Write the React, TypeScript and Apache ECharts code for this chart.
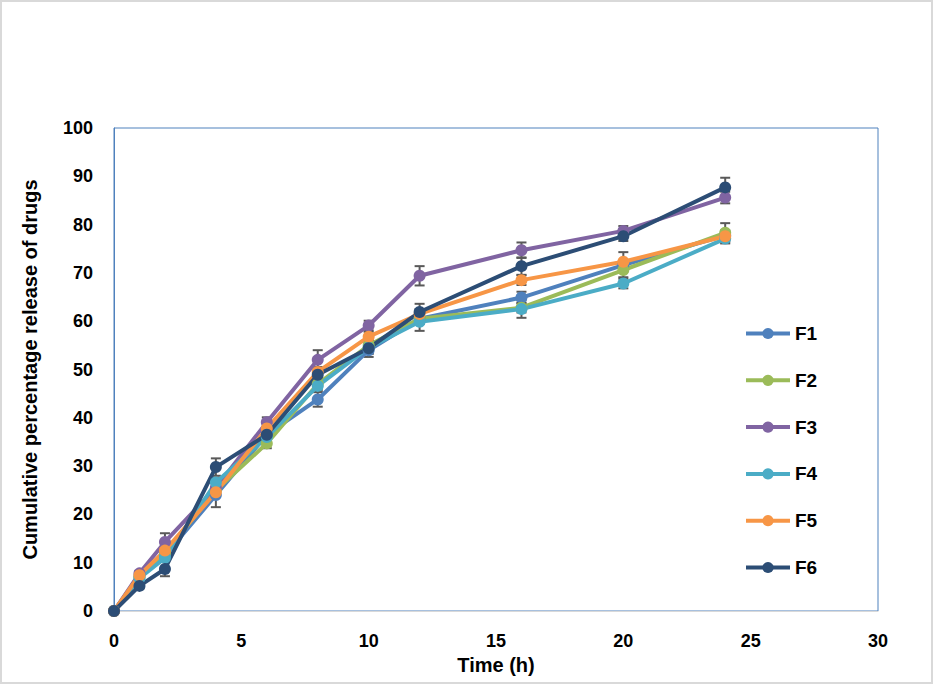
import React, { useEffect, useRef } from "react";
import * as echarts from "echarts";

const times = [0, 1, 2, 4, 6, 8, 10, 12, 16, 20, 24];
const seriesNames = ["F1", "F2", "F3", "F4", "F5", "F6"];
const colors = ["#4F81BD", "#9BBB59", "#8064A2", "#4BACC6", "#F79646", "#2C4D75"];

const f1 = [0, 7.2, 11.5, 24.0, 36.5, 43.8, 54.0, 60.5, 64.9, 71.6, 77.8];
const f2 = [0, 7.0, 12.0, 25.0, 34.7, 47.0, 55.0, 60.5, 62.8, 70.6, 78.3];
const f3 = [0, 7.8, 14.3, 25.5, 39.1, 52.0, 59.1, 69.4, 74.7, 78.7, 85.6];
const f4 = [0, 6.8, 11.0, 26.6, 36.0, 46.6, 54.5, 59.9, 62.5, 67.8, 77.1];
const f5 = [0, 7.4, 12.5, 24.6, 37.8, 49.5, 56.8, 61.5, 68.5, 72.3, 77.6];
const f6 = [0, 5.2, 8.7, 29.8, 36.5, 48.9, 54.4, 61.9, 71.4, 77.6, 87.7];

const e1 = [0, 0.5, 0.8, 2.5, 1, 1.5, 0.8, 1, 1.2, 1, 1];
const e2 = [0, 0.5, 0.8, 1, 1, 1, 1, 1, 1, 1.5, 2];
const e3 = [0, 0.5, 1.8, 1, 1, 2, 1, 2, 1.6, 1, 1.2];
const e4 = [0, 0.5, 0.8, 1, 1, 1, 1, 1.9, 1.8, 1, 1];
const e5 = [0, 0.5, 0.8, 1, 1, 1, 1, 1, 1, 2, 1];
const e6 = [0, 0.5, 1.5, 1.8, 1, 1, 1.8, 1.7, 1.8, 1, 2];

const values = [f1, f2, f3, f4, f5, f6];
const errors = [e1, e2, e3, e4, e5, e6];

const xTicks = [0, 5, 10, 15, 20, 25, 30];
const yTicks = [0, 10, 20, 30, 40, 50, 60, 70, 80, 90, 100];

export default function App() {
  const ref = useRef<HTMLDivElement>(null);
  useEffect(() => {
    document.body.style.margin = "0";
    const chart = echarts.init(ref.current!, null, { renderer: "svg" });
    const font = "Liberation Sans, Arial, sans-serif";

    const errorSeries: any[] = values.map((vals, si) => ({
      type: "custom",
      name: seriesNames[si] + " err",
      z: 3,
      silent: true,
      data: times.map((t, i) => [t, vals[i] - errors[si][i], vals[i] + errors[si][i]]),
      renderItem: (params: any, api: any) => {
        const x = api.value(0);
        const lo = api.coord([x, api.value(1)]);
        const hi = api.coord([x, api.value(2)]);
        const hw = 5;
        const style = { stroke: "#595959", lineWidth: 2 };
        return {
          type: "group",
          children: [
            { type: "line", shape: { x1: lo[0], y1: lo[1], x2: hi[0], y2: hi[1] }, style },
            { type: "line", shape: { x1: lo[0] - hw, y1: lo[1], x2: lo[0] + hw, y2: lo[1] }, style },
            { type: "line", shape: { x1: hi[0] - hw, y1: hi[1], x2: hi[0] + hw, y2: hi[1] }, style },
          ],
        };
      },
    }));

    const lineSeries: any[] = values.map((vals, si) => ({
      type: "line",
      name: seriesNames[si],
      z: 4,
      data: times.map((t, i) => [t, vals[i]]),
      symbol: "circle",
      symbolSize: 12,
      lineStyle: { color: colors[si], width: 4 },
      itemStyle: { color: colors[si] },
    }));

    chart.setOption({
      animation: false,
      backgroundColor: "#ffffff",
      graphic: [
        {
          type: "rect",
          shape: { x: 1, y: 1, width: 931, height: 682 },
          style: { fill: "none", stroke: "#D9D9D9", lineWidth: 2 },
          silent: true,
        },
      ],
      grid: {
        left: 114,
        right: 55,
        top: 128,
        bottom: 73,
        show: true,
        borderColor: "#4F81BD",
        borderWidth: 1,
        backgroundColor: "transparent",
      },
      legend: {
        data: seriesNames,
        orient: "vertical",
        left: 739,
        top: 319,
        itemWidth: 44,
        itemHeight: 14,
        itemGap: 27.8,
        lineStyle: { width: 4 },
        textStyle: { fontFamily: font, fontWeight: "bold", fontSize: 19, lineHeight: 19, color: "#000" },
      },
      xAxis: {
        type: "value",
        min: 0,
        max: 30,
        interval: 5,
        name: "Time (h)",
        nameLocation: "middle",
        nameGap: 42,
        nameTextStyle: { fontFamily: font, fontWeight: "bold", fontSize: 20, color: "#000" },
        axisLine: { show: true, lineStyle: { color: "#D9D9D9", width: 1 } },
        axisTick: { show: false },
        splitLine: { show: false },
        axisLabel: {
          fontFamily: font,
          fontWeight: "bold",
          fontSize: 18,
          color: "#000",
          margin: 21,
          customValues: xTicks,
        },
      },
      yAxis: {
        type: "value",
        min: 0,
        max: 100,
        interval: 10,
        name: "Cumulative percentage release of drugs",
        nameLocation: "middle",
        nameGap: 74,
        nameTextStyle: { fontFamily: font, fontWeight: "bold", fontSize: 20, color: "#000" },
        axisLine: { show: true, lineStyle: { color: "#4F81BD", width: 1 } },
        axisTick: { show: false },
        splitLine: { show: false },
        axisLabel: {
          fontFamily: font,
          fontWeight: "bold",
          fontSize: 18,
          color: "#000",
          margin: 21,
          customValues: yTicks,
        },
      },
      series: [...errorSeries, ...lineSeries],
    });
    return () => chart.dispose();
  }, []);
  return <div ref={ref} style={{ width: 933, height: 684 }} />;
}
